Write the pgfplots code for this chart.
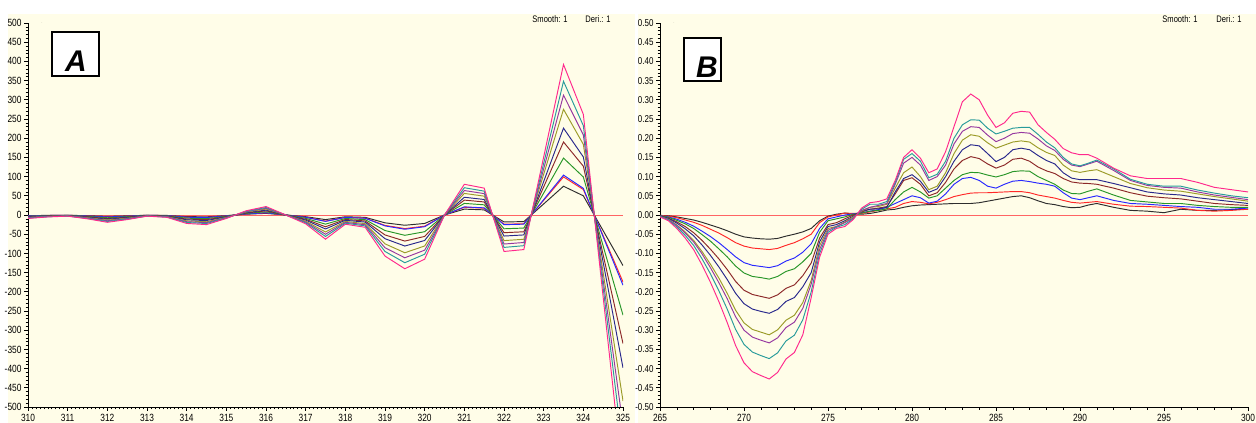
\documentclass[border=0pt]{standalone}
\usepackage{pgfplots}
\pgfplotsset{compat=1.18}
\usepackage{pgfplotstable}
\usepackage{fontspec}
\setmainfont{Liberation Sans}[FakeStretch=0.8]
\newfontfamily\boxfont{Liberation Sans}

\definecolor{bgcream}{RGB}{255,253,232}
\definecolor{ck}{RGB}{45,45,45}
\definecolor{cr}{RGB}{255,40,40}
\definecolor{cb}{RGB}{40,40,255}
\definecolor{cg}{RGB}{40,150,40}
\definecolor{cbr}{RGB}{140,40,40}
\definecolor{cnv}{RGB}{40,40,140}
\definecolor{col}{RGB}{155,155,40}
\definecolor{cpu}{RGB}{150,55,160}
\definecolor{cte}{RGB}{40,155,155}
\definecolor{cpk}{RGB}{255,40,140}
\definecolor{zline}{RGB}{255,100,100}

% panel A: first derivative, 310-325 nm
\pgfplotstableread{
x     k      r      b      g      br     nv     ol     pu     te     pk
310   -1.7   -2.3   -2.4   -3.4   -4.4   -5.2   -6.3   -7.2   -8.0   -9
310.5 -1.0   -1.3   -1.3   -1.9   -2.4   -2.9   -3.5   -4.0   -4.4   -5
311   -0.6   -0.8   -0.8   -1.1   -1.5   -1.7   -2.1   -2.4   -2.7   -3
311.5 -1.9   -2.5   -2.7   -3.8   -4.9   -5.8   -7.0   -8.0   -8.9   -10
312   -3.6   -4.8   -5.0   -7.2   -9.2   -11.0  -13.3  -15.1  -16.9  -19
312.5 -2.3   -3.0   -3.2   -4.5   -5.8   -6.9   -8.4   -9.6   -10.7  -12
313   -0.6   -0.8   -0.8   -1.1   -1.5   -1.7   -2.1   -2.4   -2.7   -3
313.5 -1.1   -1.5   -1.6   -2.3   -2.9   -3.5   -4.2   -4.8   -5.3   -6
314   -4.2   -5.6   -5.8   -8.3   -10.7  -12.7  -15.4  -17.5  -19.5  -22
314.5 -4.8   -6.3   -6.6   -9.5   -12.1  -14.4  -17.6  -19.9  -22.2  -25
315   -1.7   -2.3   -2.4   -3.4   -4.4   -5.2   -6.3   -7.2   -8.0   -9
315.5 2.1    2.8    2.9    4.2    5.3    6.3    7.7    8.8    9.8    11
316   4.2    5.6    5.8    8.3    10.7   12.7   15.4   17.5   19.5   22
316.5 0      0      0      0      0      0      0      0      0      0
317   -4.4   -5.8   -6.1   -8.7   -11.2  -13.3  -16.1  -18.3  -20.4  -23
317.5 -12.0  -15.9  -16.7  -23.8  -30.6  -36.4  -44.2  -50.1  -55.9  -63
318   -4.6   -6.1   -6.4   -9.1   -11.6  -13.8  -16.8  -19.1  -21.3  -24
318.5 -6.1   -8.1   -8.5   -12.1  -15.5  -18.5  -22.5  -25.5  -28.4  -32
319   -20.4  -27.1  -28.4  -40.4  -51.9  -61.7  -75.1  -85.2  -95.0  -107
319.5 -26.7  -35.4  -37.1  -52.9  -67.9  -80.8  -98.3  -111.4 -124.3 -140
320   -22.0  -29.1  -30.5  -43.5  -55.8  -66.4  -80.7  -91.5  -102.1 -115
320.5 0      0      0      0      0      0      0      0      0      0
321   15.3   20.2   21.2   30.2   38.8   46.2   56.2   63.7   71.0   80
321.5 13.4   17.7   18.6   26.5   34.0   40.4   49.1   55.7   62.2   70
322   -18.1  -24.0  -25.2  -35.9  -46.1  -54.8  -66.7  -75.6  -84.4  -95
322.5 -17.2  -22.8  -23.9  -34.0  -43.7  -51.9  -63.2  -71.6  -79.9  -90
323   28.8   38.2   40.0   57.1   73.2   87.1   106.0  120.2  134.1  151
323.5 74.9   99.2   103.9  148.2  190.1  226.2  275.2  312.0  348.1  392
324   50.0   66.3   69.4   99.0   127.1  151.2  183.9  208.6  232.7  262
324.5 -40.9  -54.1  -56.7  -80.9  -103.8 -123.5 -150.2 -170.3 -190.0 -214
325   -131.8 -174.6 -182.9 -260.8 -334.7 -398.1 -484.4 -549.2 -612.7 -690
}\dataA

% panel B: 265-300 nm
\pgfplotstableread{
x     k      r      b      g      br     nv     ol     pu     te     pk
265   -0.001 -0.001 -0.002 -0.002 -0.003 -0.003 -0.004 -0.004 -0.004 -0.005
265.5 -0.002 -0.003 -0.005 -0.006 -0.008 -0.009 -0.011 -0.012 -0.013 -0.015
266   -0.005 -0.007 -0.011 -0.014 -0.018 -0.021 -0.026 -0.027 -0.031 -0.035
266.5 -0.009 -0.013 -0.019 -0.023 -0.030 -0.036 -0.044 -0.047 -0.053 -0.060
267   -0.013 -0.019 -0.029 -0.035 -0.046 -0.054 -0.066 -0.070 -0.079 -0.090
267.5 -0.019 -0.027 -0.042 -0.051 -0.066 -0.078 -0.095 -0.101 -0.114 -0.130
268   -0.026 -0.037 -0.056 -0.068 -0.089 -0.105 -0.128 -0.137 -0.153 -0.175
268.5 -0.033 -0.047 -0.072 -0.088 -0.114 -0.135 -0.164 -0.176 -0.197 -0.225
269   -0.041 -0.059 -0.090 -0.109 -0.142 -0.168 -0.204 -0.218 -0.245 -0.280
269.5 -0.050 -0.072 -0.109 -0.133 -0.173 -0.204 -0.248 -0.265 -0.298 -0.340
270   -0.057 -0.081 -0.124 -0.151 -0.196 -0.231 -0.281 -0.300 -0.337 -0.385
270.5 -0.060 -0.086 -0.131 -0.160 -0.207 -0.245 -0.298 -0.318 -0.357 -0.408
271   -0.062 -0.088 -0.134 -0.163 -0.212 -0.251 -0.305 -0.326 -0.366 -0.418
271.5 -0.063 -0.090 -0.137 -0.167 -0.217 -0.256 -0.312 -0.333 -0.374 -0.427
272   -0.061 -0.087 -0.132 -0.160 -0.208 -0.246 -0.299 -0.320 -0.359 -0.410
272.5 -0.055 -0.079 -0.120 -0.147 -0.191 -0.225 -0.274 -0.293 -0.328 -0.375
273   -0.050 -0.072 -0.112 -0.140 -0.182 -0.215 -0.261 -0.279 -0.313 -0.358
273.5 -0.044 -0.062 -0.097 -0.122 -0.158 -0.187 -0.228 -0.243 -0.273 -0.312
274   -0.035 -0.050 -0.075 -0.100 -0.125 -0.150 -0.170 -0.180 -0.200 -0.215
274.5 -0.015 -0.020 -0.035 -0.045 -0.060 -0.070 -0.080 -0.090 -0.100 -0.110
275   -0.003 -0.005 -0.010 -0.015 -0.025 -0.030 -0.035 -0.040 -0.045 -0.050
275.5 0.002  0.000  -0.005 -0.010 -0.020 -0.025 -0.030 -0.030 -0.032 -0.035
276   0.005  0.005  0.000  -0.005 -0.010 -0.015 -0.018 -0.020 -0.025 -0.030
276.5 0.003  0.004  0.003  0.002  0.000  -0.003 -0.005 -0.008 -0.010 -0.012
277   0.002  0.004  0.006  0.005  0.008  0.010  0.010  0.012  0.015  0.018
277.5 0.004  0.008  0.010  0.010  0.015  0.015  0.020  0.020  0.028  0.032
278   0.008  0.012  0.014  0.012  0.018  0.016  0.022  0.025  0.028  0.035
278.5 0.013  0.016  0.020  0.016  0.022  0.020  0.028  0.030  0.035  0.042
279   0.015  0.020  0.030  0.040  0.055  0.060  0.070  0.080  0.085  0.090
279.5 0.020  0.030  0.040  0.060  0.090  0.095  0.110  0.135  0.145  0.150
280   0.024  0.035  0.050  0.072  0.097  0.105  0.125  0.150  0.160  0.170
280.5 0.026  0.033  0.045  0.060  0.080  0.088  0.100  0.130  0.140  0.148
281   0.027  0.029  0.031  0.044  0.050  0.059  0.066  0.090  0.097  0.110
281.5 0.028  0.033  0.036  0.050  0.058  0.068  0.075  0.100  0.106  0.120
282   0.029  0.040  0.055  0.070  0.085  0.100  0.110  0.130  0.140  0.165
282.5 0.030  0.048  0.080  0.090  0.120  0.140  0.160  0.185  0.200  0.230
283   0.030  0.053  0.095  0.105  0.142  0.170  0.195  0.218  0.235  0.295
283.5 0.030  0.057  0.098  0.111  0.152  0.183  0.209  0.230  0.248  0.315
284   0.032  0.058  0.090  0.110  0.147  0.180  0.205  0.228  0.247  0.300
284.5 0.036  0.058  0.075  0.104  0.133  0.160  0.188  0.208  0.226  0.260
285   0.040  0.059  0.070  0.099  0.122  0.139  0.174  0.191  0.211  0.228
285.5 0.044  0.060  0.080  0.105  0.130  0.150  0.182  0.200  0.218  0.240
286   0.048  0.061  0.088  0.113  0.145  0.170  0.190  0.212  0.226  0.265
286.5 0.050  0.061  0.090  0.115  0.148  0.174  0.193  0.215  0.228  0.270
287   0.045  0.058  0.087  0.114  0.140  0.170  0.190  0.213  0.228  0.268
287.5 0.037  0.052  0.083  0.100  0.125  0.155  0.175  0.198  0.210  0.235
288   0.030  0.048  0.080  0.090  0.115  0.142  0.163  0.180  0.190  0.215
288.5 0.027  0.044  0.075  0.080  0.108  0.133  0.155  0.168  0.175  0.197
289   0.022  0.038  0.058  0.065  0.095  0.110  0.130  0.145  0.150  0.173
289.5 0.019  0.033  0.044  0.056  0.086  0.096  0.115  0.130  0.133  0.162
290   0.020  0.031  0.040  0.055  0.083  0.092  0.111  0.126  0.128  0.157
290.5 0.026  0.033  0.045  0.062  0.082  0.092  0.115  0.133  0.135  0.157
291   0.030  0.035  0.050  0.068  0.080  0.092  0.118  0.140  0.143  0.148
292   0.020  0.028  0.038  0.052  0.070  0.082  0.100  0.116  0.120  0.122
293   0.012  0.023  0.030  0.038  0.058  0.071  0.082  0.090  0.093  0.102
294   0.010  0.022  0.028  0.034  0.049  0.060  0.071  0.077  0.080  0.095
295   0.006  0.020  0.025  0.030  0.045  0.055  0.065  0.072  0.075  0.095
296   0.015  0.018  0.022  0.030  0.042  0.052  0.062  0.070  0.075  0.095
297   0.012  0.012  0.020  0.025  0.036  0.045  0.055  0.060  0.065  0.085
298   0.012  0.010  0.015  0.022  0.030  0.040  0.048  0.052  0.057  0.072
299   0.014  0.012  0.015  0.020  0.027  0.035  0.042  0.046  0.050  0.066
300   0.015  0.015  0.018  0.020  0.025  0.030  0.036  0.040  0.045  0.060
}\dataB

\pgfplotsset{
  spec/.style={
    scale only axis, axis lines=left,
    axis line style={-, line width=0.9bp, black},
    enlargelimits=false, tick align=outside,
    major tick length=4bp, minor tick length=2.5bp,
    every tick/.style={black, line width=0.6bp},
    tick label style={font=\fontsize{10.5}{10.5}\selectfont},
    yticklabel style={xshift=1bp},
    /pgf/number format/assume math mode=true,
    clip=true,
  },
  curve/.style={line width=0.95bp, mark=none},
}

\begin{document}
\begin{tikzpicture}
\fill[white] (0,0) rectangle (1256bp,423bp);
\fill[bgcream] (8bp,0) rectangle (635bp,409bp);
\fill[bgcream] (638bp,0) rectangle (1256bp,409bp);

\begin{axis}[spec, at={(28bp,16bp)}, anchor=south west,
    width=595bp, height=384bp,
    xmin=310, xmax=325, ymin=-500, ymax=500,
    xtick distance=1, minor x tick num=9,
    ytick distance=50, minor y tick num=4,
  ]
  \addplot[zline, line width=0.6bp] coordinates {(310,0) (325,0)};
  \addplot[curve, ck]  table[x=x, y=k]  {\dataA};
  \addplot[curve, cr]  table[x=x, y=r]  {\dataA};
  \addplot[curve, cb]  table[x=x, y=b]  {\dataA};
  \addplot[curve, cg]  table[x=x, y=g]  {\dataA};
  \addplot[curve, cbr] table[x=x, y=br] {\dataA};
  \addplot[curve, cnv] table[x=x, y=nv] {\dataA};
  \addplot[curve, col] table[x=x, y=ol] {\dataA};
  \addplot[curve, cpu] table[x=x, y=pu] {\dataA};
  \addplot[curve, cte] table[x=x, y=te] {\dataA};
  \addplot[curve, cpk] table[x=x, y=pk] {\dataA};
  \node[anchor=south west, inner sep=0.5bp, xshift=1bp, font=\fontsize{9}{9}\selectfont] at (rel axis cs:0,1) {ABS};
  \node[anchor=west, inner sep=0bp, xshift=1.5bp, yshift=1bp, font=\fontsize{8.5}{8.5}\selectfont] at (rel axis cs:1,0) {nm};
\end{axis}

\begin{axis}[spec, at={(660bp,16bp)}, anchor=south west,
    width=588bp, height=384bp,
    xmin=265, xmax=300, ymin=-0.5, ymax=0.5,
    xtick distance=5, minor x tick num=4,
    ytick distance=0.05, minor y tick num=4,
    yticklabel style={font=\fontsize{10}{10}\selectfont, /pgf/number format/.cd, fixed, fixed zerofill, precision=2},
  ]
  \addplot[zline, line width=0.6bp] coordinates {(265,0) (300,0)};
  \addplot[curve, ck]  table[x=x, y=k]  {\dataB};
  \addplot[curve, cr]  table[x=x, y=r]  {\dataB};
  \addplot[curve, cb]  table[x=x, y=b]  {\dataB};
  \addplot[curve, cg]  table[x=x, y=g]  {\dataB};
  \addplot[curve, cbr] table[x=x, y=br] {\dataB};
  \addplot[curve, cnv] table[x=x, y=nv] {\dataB};
  \addplot[curve, col] table[x=x, y=ol] {\dataB};
  \addplot[curve, cpu] table[x=x, y=pu] {\dataB};
  \addplot[curve, cte] table[x=x, y=te] {\dataB};
  \addplot[curve, cpk] table[x=x, y=pk] {\dataB};
  \node[anchor=south west, inner sep=0.5bp, xshift=1bp, font=\fontsize{9}{9}\selectfont] at (rel axis cs:0,1) {ABS};
\end{axis}

% header texts
\node[font=\fontsize{9.5}{9.5}\selectfont] at (550bp,404bp) {Smooth: 1};
\node[font=\fontsize{9.5}{9.5}\selectfont] at (598bp,404bp) {Deri.: 1};
\node[font=\fontsize{9.5}{9.5}\selectfont] at (1180bp,404bp) {Smooth: 1};
\node[font=\fontsize{9.5}{9.5}\selectfont] at (1229bp,404bp) {Deri.: 1};

% panel letters
\draw[fill=white, line width=1.2bp] (52bp,347bp) rectangle (99bp,391bp);
\node[font=\boxfont\bfseries\itshape\fontsize{30}{30}\selectfont] at (76bp,362bp) {A};
\draw[fill=white, line width=1.2bp] (684bp,342bp) rectangle (721bp,385bp);
\node[font=\boxfont\bfseries\itshape\fontsize{30}{30}\selectfont] at (707bp,356bp) {B};

\pgfresetboundingbox
\path[use as bounding box] (0,0) rectangle (1256bp,423bp);
\end{tikzpicture}
\end{document}
